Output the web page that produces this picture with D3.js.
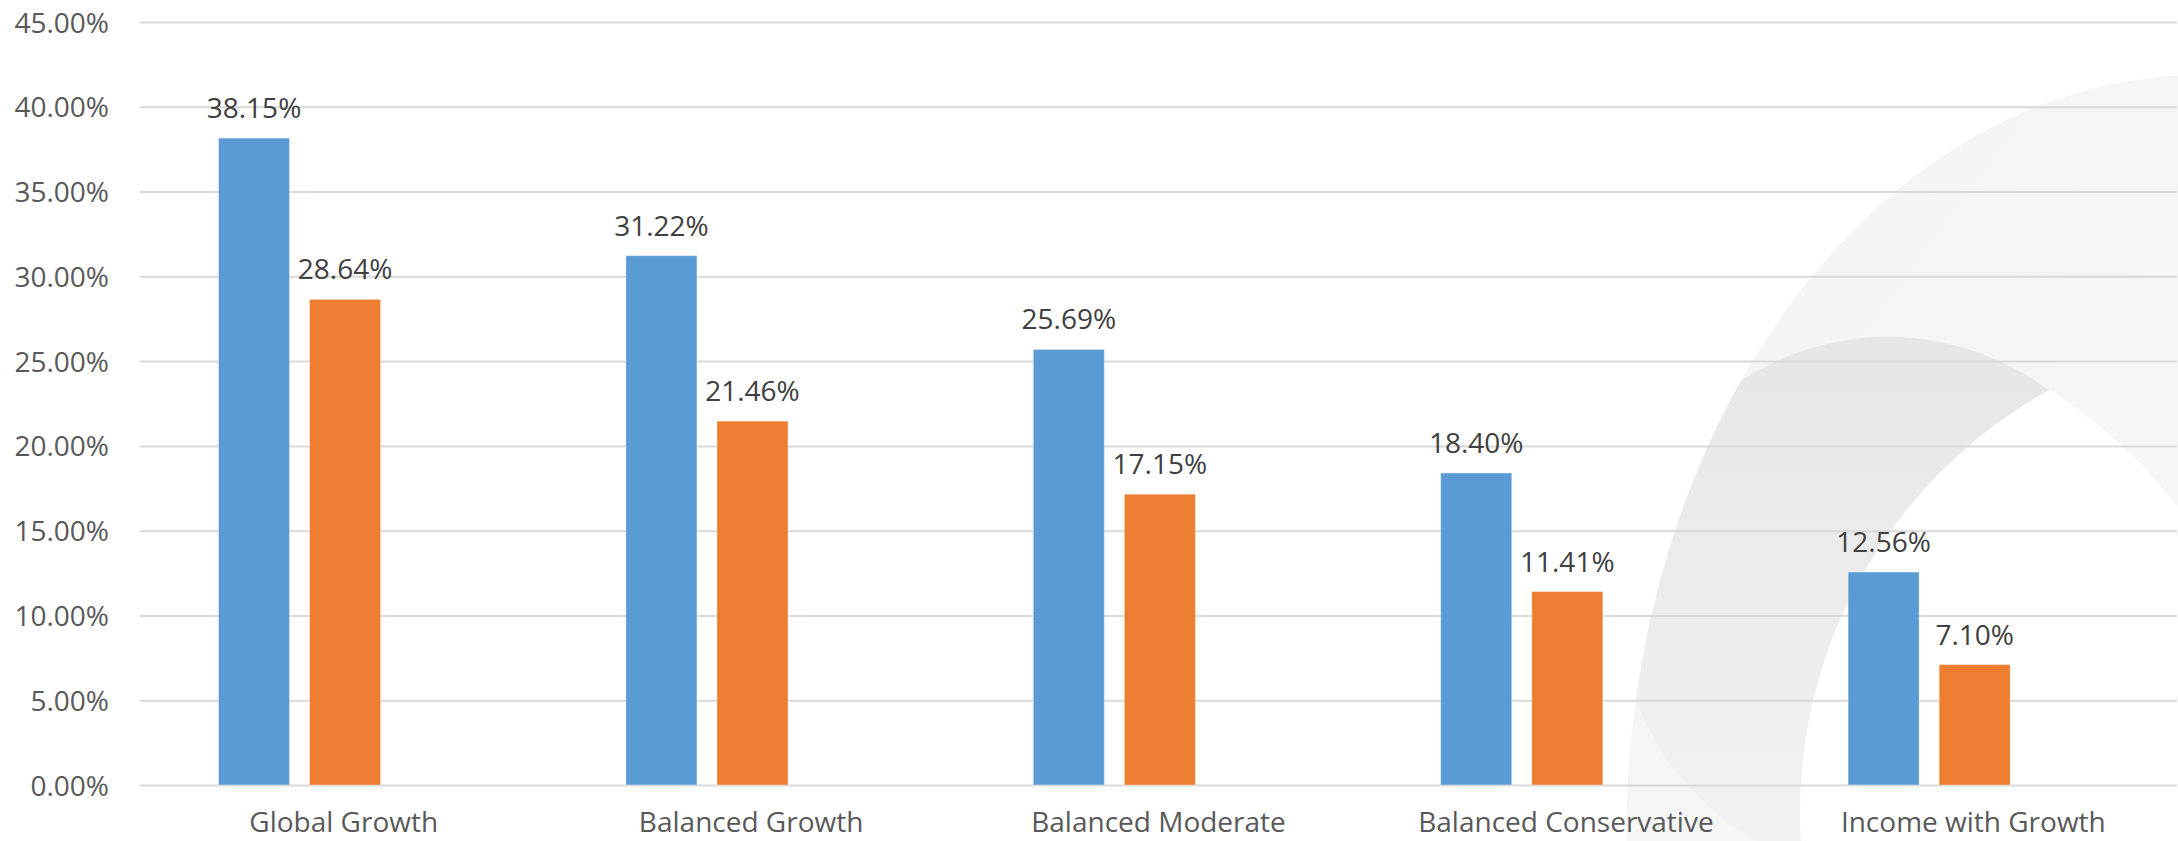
<!DOCTYPE html>
<html>
<head>
<meta charset="utf-8">
<script src="https://cdn.jsdelivr.net/npm/d3@7"></script>
<style>
  html, body { margin: 0; padding: 0; background: #ffffff; }
  svg { display: block; }
  text { font-family: "Open Sans", "Noto Sans", sans-serif; }
</style>
</head>
<body>
<svg id="chart" width="2178" height="841"></svg>
<script>
// Portfolio returns by model portfolio, two periods
const categories = ["Global Growth", "Balanced Growth", "Balanced Moderate", "Balanced Conservative", "Income with Growth"];
const seriesNames = ["Series 1", "Series 2"];
const series1Values = [38.15, 31.22, 25.69, 18.40, 12.56];
const series2Values = [28.64, 21.46, 17.15, 11.41, 7.10];
const yTicks = [0, 5, 10, 15, 20, 25, 30, 35, 40, 45];
const seriesColors = ["#5b9bd5", "#ed7d31"];

const W = 2178, H = 841;
const plot = { left: 140, right: 2177, top: 22, bottom: 785 };

const svg = d3.select("#chart");

// ---- decorative background emblem (soft grey rings on the right) ----
const defs = svg.append("defs");
const gLight = defs.append("linearGradient").attr("id", "ringLight")
  .attr("x1", "0").attr("y1", "0").attr("x2", "1").attr("y2", "1");
gLight.append("stop").attr("offset", "0").attr("stop-color", "#f3f3f3");
gLight.append("stop").attr("offset", "0.6").attr("stop-color", "#f7f8f8");
gLight.append("stop").attr("offset", "1").attr("stop-color", "#fafafa");
const gDark = defs.append("linearGradient").attr("id", "ringDark")
  .attr("x1", "0").attr("y1", "0").attr("x2", "0").attr("y2", "1");
gDark.append("stop").attr("offset", "0").attr("stop-color", "#e6e6e7");
gDark.append("stop").attr("offset", "0.45").attr("stop-color", "#ececec");
gDark.append("stop").attr("offset", "1").attr("stop-color", "#f2f2f2");

defs.append("clipPath").attr("id", "outerClip")
  .append("ellipse").attr("cx", 2200).attr("cy", 840).attr("rx", 574).attr("ry", 765);
defs.append("clipPath").attr("id", "holeClip")
  .append("circle").attr("cx", 1762).attr("cy", 835).attr("r", 530);

const emblem = svg.append("g").attr("class", "emblem");
emblem.append("ellipse")
  .attr("cx", 2200).attr("cy", 840).attr("rx", 574).attr("ry", 765)
  .attr("fill", "url(#ringLight)");
emblem.append("circle")
  .attr("cx", 1888).attr("cy", 606).attr("r", 269)
  .attr("clip-path", "url(#outerClip)")
  .attr("fill", "url(#ringDark)");
emblem.append("circle")
  .attr("cx", 2282).attr("cy", 812).attr("r", 482)
  .attr("clip-path", "url(#holeClip)")
  .attr("fill", "#ffffff");

// ---- scales ----
const x0 = d3.scaleBand()
  .domain(categories)
  .range([plot.left, plot.right])
  .paddingInner(0).paddingOuter(0);

const x1 = d3.scaleBand()
  .domain(seriesNames)
  .range([0, x0.bandwidth()])
  .paddingInner(0.22)
  .paddingOuter(1.347)
  .align(0.32);

const y = d3.scaleLinear()
  .domain([0, 45])
  .range([plot.bottom, plot.top]);

// ---- gridlines and value axis labels ----
const yAxis = d3.axisLeft(y)
  .tickValues(yTicks)
  .tickSize(-(plot.right - plot.left))
  .tickFormat(d => d3.format(".2f")(d) + "%");

const yg = svg.append("g")
  .attr("transform", `translate(${plot.left},0)`)
  .call(yAxis);
yg.select(".domain").remove();
yg.selectAll(".tick line")
  .attr("stroke", "#d9d9d9")
  .attr("stroke-width", 2);
yg.selectAll(".tick text")
  .attr("x", -31)
  .attr("dy", null)
  .attr("y", 10)
  .attr("fill", "#595959")
  .attr("font-size", 28)
  .attr("text-anchor", "end");

// ---- bars ----
const rows = categories.map((c, i) => ({
  category: c,
  values: [
    { name: seriesNames[0], value: series1Values[i] },
    { name: seriesNames[1], value: series2Values[i] }
  ]
}));

const groups = svg.append("g").selectAll("g")
  .data(rows)
  .join("g")
  .attr("transform", d => `translate(${x0(d.category)},0)`);

groups.selectAll("rect")
  .data(d => d.values)
  .join("rect")
  .attr("x", d => x1(d.name))
  .attr("width", x1.bandwidth())
  .attr("y", d => y(d.value))
  .attr("height", d => y(0) - y(d.value))
  .attr("fill", (d, i) => seriesColors[i])
  .attr("stroke", "rgba(255,255,255,0.35)")
  .attr("stroke-width", 1);

// value labels above each bar
groups.selectAll("text.value")
  .data(d => d.values)
  .join("text")
  .attr("class", "value")
  .attr("x", d => x1(d.name) + x1.bandwidth() / 2)
  .attr("y", d => y(d.value) - 20)
  .attr("text-anchor", "middle")
  .attr("fill", "#404040")
  .attr("font-size", 28)
  .text(d => d3.format(".2f")(d.value) + "%");

// ---- category labels ----
const xAxis = d3.axisBottom(x0).tickSize(0).tickPadding(0);
const xg = svg.append("g")
  .attr("transform", `translate(0,${plot.bottom})`)
  .call(xAxis);
xg.select(".domain").remove();
xg.selectAll(".tick text")
  .attr("y", 47)
  .attr("dy", null)
  .attr("fill", "#595959")
  .attr("font-size", 28);
</script>
</body>
</html>
